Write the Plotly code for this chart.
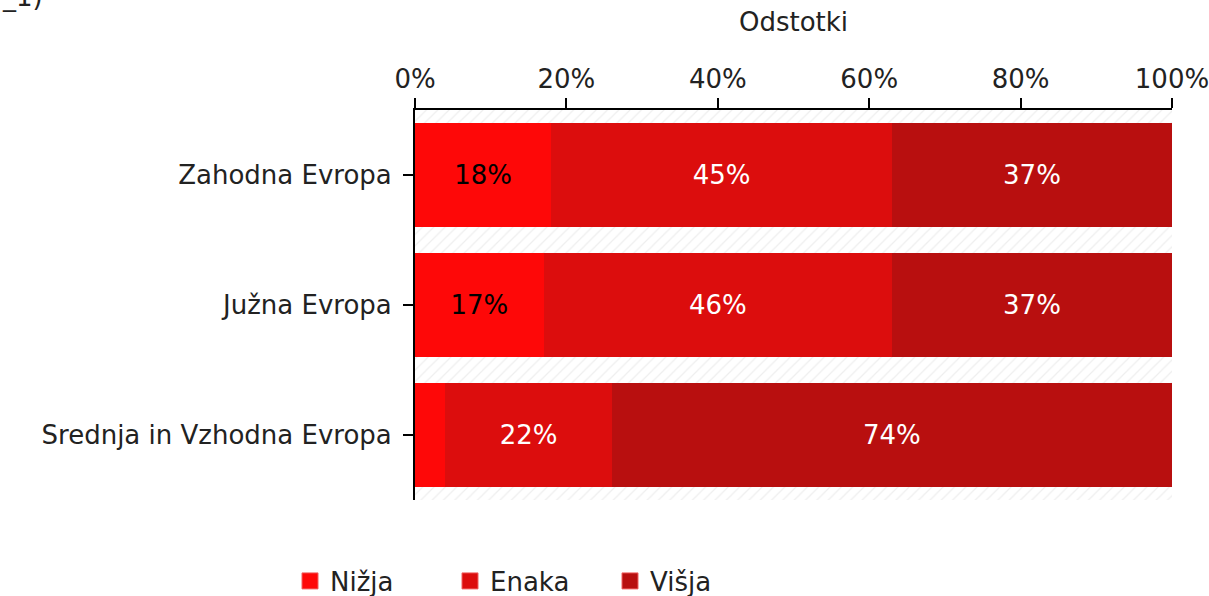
import plotly.graph_objects as go

categories = ["Zahodna Evropa", "Južna Evropa", "Srednja in Vzhodna Evropa"]
series_names = ["Nižja", "Enaka", "Višja"]
nizja = [18, 17, 4]
enaka = [45, 46, 22]
visja = [37, 37, 74]
nizja_labels = ["18%", "17%", ""]
enaka_labels = ["45%", "46%", "22%"]
visja_labels = ["37%", "37%", "74%"]
tick_vals = [0, 20, 40, 60, 80, 100]
tick_text = ["0%", "20%", "40%", "60%", "80%", "100%"]
colors = ["#fe0808", "#dc0d0d", "#b80f0f"]
text_colors = ["black", "white", "white"]

font = "DejaVu Sans"
FS = 26
W, H = 1209, 596
ML, MR, MT, MB = 415, 37, 110, 96
PW, PH = W - ML - MR, H - MT - MB

fig = go.Figure()

# hatched background band (decorative)
fig.add_trace(go.Bar(
    y=categories, x=[100] * len(categories), orientation="h", width=1,
    marker=dict(color="white", line=dict(width=0),
                pattern=dict(shape="/", fgcolor="#dedede", bgcolor="white", size=8, solidity=0.15)),
    showlegend=False, hoverinfo="skip",
))

for name, vals, labels, c, tc in zip(series_names, [nizja, enaka, visja],
                                     [nizja_labels, enaka_labels, visja_labels], colors, text_colors):
    fig.add_trace(go.Bar(
        y=categories, x=vals, orientation="h", name=name, yaxis="y2",
        marker=dict(color=c, line=dict(width=0)),
        text=labels, textposition="inside", insidetextanchor="middle",
        textfont=dict(family=font, size=FS, color=tc), textangle=0,
        showlegend=False, legendgroup=name,
    ))
    # legend entry with a larger square swatch
    fig.add_trace(go.Scatter(
        x=[None], y=[None], mode="markers", name=name, legendgroup=name,
        marker=dict(symbol="square", size=19, color=c, line=dict(color="#f06060", width=1)),
        showlegend=True, hoverinfo="skip",
    ))

fig.update_layout(
    width=W, height=H,
    barmode="stack", bargap=0.2,
    paper_bgcolor="white", plot_bgcolor="white",
    margin=dict(l=ML, r=MR, t=MT, b=MB, autoexpand=False),
    font=dict(family=font, size=FS, color="#222"),
    xaxis=dict(side="top", range=[0, 100], tickvals=tick_vals, ticktext=tick_text,
               showline=True, linecolor="black", linewidth=2, ticks="outside", ticklen=10,
               tickcolor="black", tickwidth=2, showgrid=True, gridcolor="#dddddd", gridwidth=1,
               zeroline=False, tickfont=dict(family=font, size=FS, color="#222"),
               automargin=False, ticklabeloverflow="allow"),
    yaxis=dict(autorange="reversed", showline=True, linecolor="black", linewidth=2,
               ticks="outside", ticklen=10, tickcolor="black", tickwidth=2,
               tickfont=dict(family=font, size=FS, color="#222"), ticklabelstandoff=6,
               automargin=False),
    yaxis2=dict(overlaying="y", autorange="reversed", visible=False, matches="y"),
    legend=dict(orientation="h", xref="container", yref="container", x=290 / W, y=1 - 581 / H,
                xanchor="left", yanchor="middle", font=dict(family=font, size=FS, color="#222"),
                traceorder="normal", itemwidth=30, entrywidth=115, entrywidthmode="pixels"),
    annotations=[
        dict(text="Odstotki", xref="paper", yref="paper", x=0.5, y=(H - MB - 22) / PH,
             showarrow=False, font=dict(family=font, size=FS, color="#222"), yanchor="middle"),
        dict(text="_1)", xref="paper", yref="paper", x=-ML / PW, y=(H - MB + 3) / PH,
             xanchor="left", yanchor="middle", showarrow=False,
             font=dict(family=font, size=FS, color="#222")),
    ],
)

fig.write_html("out.html", config={"displayModeBar": False},
               post_script="document.body.style.margin='0';")
